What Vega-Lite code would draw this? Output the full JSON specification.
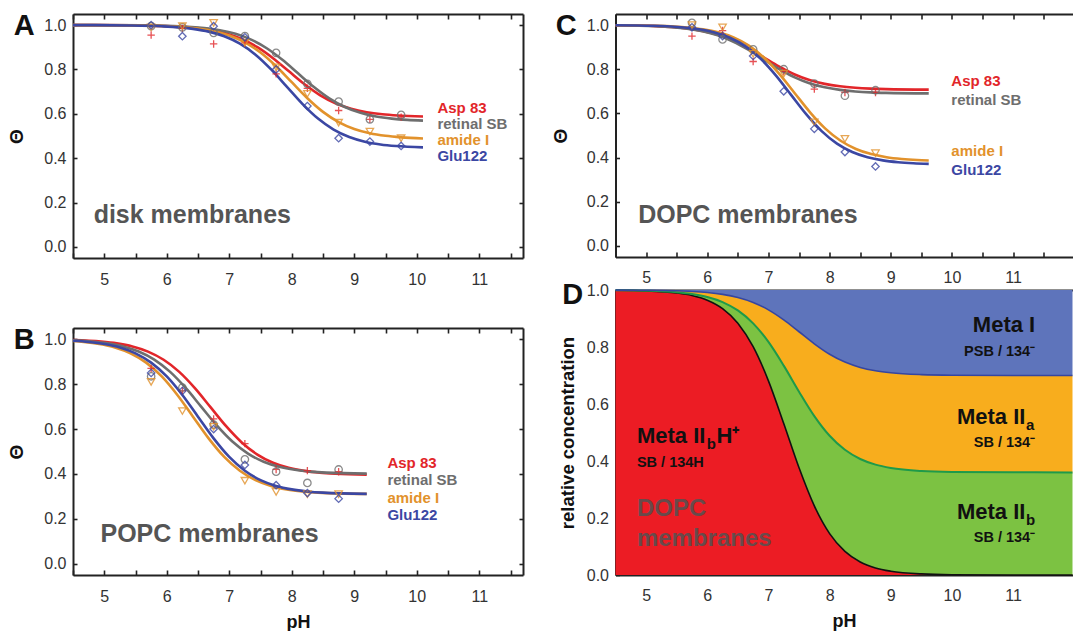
{
"$schema":"https://vega.github.io/schema/vega-lite/v6.json",
"background":"white",
"padding":{"left":7,"top":12,"right":0,"bottom":0},
"config":{
 "font":"Liberation Sans",
 "view":{"stroke":null},
 "axis":{"grid":false,"zindex":1,"domainColor":"#222","domainWidth":2,"tickColor":"#222","tickWidth":1.6,"labelFont":"Liberation Sans","labelFontSize":16,"labelColor":"#333","titleFont":"Liberation Sans","titleColor":"#111","titleFontWeight":"bold","labelOverlap":false,"labelFlush":false},
 "text":{"font":"Liberation Sans"},
 "title":{"font":"Liberation Sans"}
},
"datasets":{
 "aLines":[
  {"s":"Asp 83","p":4.5,"v":1.0},{"s":"Asp 83","p":5.45,"v":0.9987},{"s":"Asp 83","p":5.95,"v":0.9959},{"s":"Asp 83","p":6.45,"v":0.9873},{"s":"Asp 83","p":6.7,"v":0.9779},{"s":"Asp 83","p":6.95,"v":0.9623},{"s":"Asp 83","p":7.2,"v":0.9373},{"s":"Asp 83","p":7.45,"v":0.9003},{"s":"Asp 83","p":7.7,"v":0.8506},{"s":"Asp 83","p":7.95,"v":0.7925},{"s":"Asp 83","p":8.2,"v":0.7344},{"s":"Asp 83","p":8.45,"v":0.6847},{"s":"Asp 83","p":8.7,"v":0.6477},{"s":"Asp 83","p":8.95,"v":0.6227},{"s":"Asp 83","p":9.2,"v":0.6071},{"s":"Asp 83","p":9.45,"v":0.5977},{"s":"Asp 83","p":9.7,"v":0.5923},{"s":"Asp 83","p":10.1,"v":0.5879},
  {"s":"retinal SB","p":4.5,"v":1.0},{"s":"retinal SB","p":5.6,"v":0.9986},{"s":"retinal SB","p":6.1,"v":0.9957},{"s":"retinal SB","p":6.6,"v":0.9866},{"s":"retinal SB","p":6.85,"v":0.9769},{"s":"retinal SB","p":7.1,"v":0.9605},{"s":"retinal SB","p":7.35,"v":0.9343},{"s":"retinal SB","p":7.6,"v":0.8955},{"s":"retinal SB","p":7.85,"v":0.8434},{"s":"retinal SB","p":8.1,"v":0.7825},{"s":"retinal SB","p":8.35,"v":0.7216},{"s":"retinal SB","p":8.6,"v":0.6695},{"s":"retinal SB","p":8.85,"v":0.6307},{"s":"retinal SB","p":9.1,"v":0.6045},{"s":"retinal SB","p":9.35,"v":0.5881},{"s":"retinal SB","p":9.6,"v":0.5784},{"s":"retinal SB","p":9.85,"v":0.5726},{"s":"retinal SB","p":10.1,"v":0.5693},
  {"s":"amide I","p":4.5,"v":1.0},{"s":"amide I","p":5.5,"v":0.9984},{"s":"amide I","p":6.0,"v":0.9949},{"s":"amide I","p":6.5,"v":0.9842},{"s":"amide I","p":6.75,"v":0.9726},{"s":"amide I","p":7.0,"v":0.9532},{"s":"amide I","p":7.25,"v":0.9222},{"s":"amide I","p":7.5,"v":0.8762},{"s":"amide I","p":7.75,"v":0.8146},{"s":"amide I","p":8.0,"v":0.7425},{"s":"amide I","p":8.25,"v":0.6704},{"s":"amide I","p":8.5,"v":0.6088},{"s":"amide I","p":8.75,"v":0.5628},{"s":"amide I","p":9.0,"v":0.5318},{"s":"amide I","p":9.25,"v":0.5124},{"s":"amide I","p":9.5,"v":0.5008},{"s":"amide I","p":9.75,"v":0.494},{"s":"amide I","p":10.1,"v":0.489},
  {"s":"Glu122","p":4.5,"v":1.0},{"s":"Glu122","p":5.42,"v":0.9982},{"s":"Glu122","p":5.92,"v":0.9945},{"s":"Glu122","p":6.42,"v":0.983},{"s":"Glu122","p":6.67,"v":0.9705},{"s":"Glu122","p":6.92,"v":0.9495},{"s":"Glu122","p":7.17,"v":0.9162},{"s":"Glu122","p":7.42,"v":0.8666},{"s":"Glu122","p":7.67,"v":0.8002},{"s":"Glu122","p":7.92,"v":0.7225},{"s":"Glu122","p":8.17,"v":0.6448},{"s":"Glu122","p":8.42,"v":0.5784},{"s":"Glu122","p":8.67,"v":0.5288},{"s":"Glu122","p":8.92,"v":0.4955},{"s":"Glu122","p":9.17,"v":0.4745},{"s":"Glu122","p":9.42,"v":0.462},{"s":"Glu122","p":9.67,"v":0.4547},{"s":"Glu122","p":10.1,"v":0.4487}
 ],
 "aPts":[
  {"s":"Asp 83","p":5.75,"v":0.955},{"s":"Asp 83","p":6.25,"v":0.985},{"s":"Asp 83","p":6.75,"v":0.915},{"s":"Asp 83","p":7.25,"v":0.92},{"s":"Asp 83","p":7.75,"v":0.78},{"s":"Asp 83","p":8.25,"v":0.715},{"s":"Asp 83","p":8.75,"v":0.615},{"s":"Asp 83","p":9.25,"v":0.575},{"s":"Asp 83","p":9.75,"v":0.585},
  {"s":"retinal SB","p":5.75,"v":0.995},{"s":"retinal SB","p":6.25,"v":0.99},{"s":"retinal SB","p":6.75,"v":0.965},{"s":"retinal SB","p":7.25,"v":0.95},{"s":"retinal SB","p":7.75,"v":0.875},{"s":"retinal SB","p":8.25,"v":0.735},{"s":"retinal SB","p":8.75,"v":0.655},{"s":"retinal SB","p":9.25,"v":0.575},{"s":"retinal SB","p":9.75,"v":0.595},
  {"s":"amide I","p":5.75,"v":0.99},{"s":"amide I","p":6.25,"v":0.995},{"s":"amide I","p":6.75,"v":1.01},{"s":"amide I","p":7.25,"v":0.92},{"s":"amide I","p":7.75,"v":0.81},{"s":"amide I","p":8.25,"v":0.69},{"s":"amide I","p":8.75,"v":0.56},{"s":"amide I","p":9.25,"v":0.52},{"s":"amide I","p":9.75,"v":0.49},
  {"s":"Glu122","p":5.75,"v":1.0},{"s":"Glu122","p":6.25,"v":0.95},{"s":"Glu122","p":6.75,"v":0.995},{"s":"Glu122","p":7.25,"v":0.945},{"s":"Glu122","p":7.75,"v":0.8},{"s":"Glu122","p":8.25,"v":0.635},{"s":"Glu122","p":8.75,"v":0.49},{"s":"Glu122","p":9.25,"v":0.475},{"s":"Glu122","p":9.75,"v":0.455}
 ],
 "aLab":[{"s":"Asp 83","p":10.33,"v":0.627},{"s":"retinal SB","p":10.33,"v":0.556},{"s":"amide I","p":10.33,"v":0.483},{"s":"Glu122","p":10.33,"v":0.412}],
 "aName":[{"t":"disk membranes","p":4.83,"v":0.145}],
 "bLines":[
  {"s":"Asp 83","p":4.5,"v":0.9962},{"s":"Asp 83","p":4.95,"v":0.9894},{"s":"Asp 83","p":5.2,"v":0.9814},{"s":"Asp 83","p":5.45,"v":0.9678},{"s":"Asp 83","p":5.7,"v":0.945},{"s":"Asp 83","p":5.95,"v":0.9086},{"s":"Asp 83","p":6.2,"v":0.8546},{"s":"Asp 83","p":6.45,"v":0.7822},{"s":"Asp 83","p":6.7,"v":0.6975},{"s":"Asp 83","p":6.95,"v":0.6128},{"s":"Asp 83","p":7.2,"v":0.5404},{"s":"Asp 83","p":7.45,"v":0.4864},{"s":"Asp 83","p":7.7,"v":0.45},{"s":"Asp 83","p":7.95,"v":0.4272},{"s":"Asp 83","p":8.2,"v":0.4136},{"s":"Asp 83","p":8.45,"v":0.4056},{"s":"Asp 83","p":8.7,"v":0.401},{"s":"Asp 83","p":9.2,"v":0.3969},
  {"s":"retinal SB","p":4.5,"v":0.9947},{"s":"retinal SB","p":4.8,"v":0.9895},{"s":"retinal SB","p":5.05,"v":0.9816},{"s":"retinal SB","p":5.3,"v":0.9681},{"s":"retinal SB","p":5.55,"v":0.9455},{"s":"retinal SB","p":5.8,"v":0.9094},{"s":"retinal SB","p":6.05,"v":0.8558},{"s":"retinal SB","p":6.3,"v":0.784},{"s":"retinal SB","p":6.55,"v":0.7},{"s":"retinal SB","p":6.8,"v":0.616},{"s":"retinal SB","p":7.05,"v":0.5442},{"s":"retinal SB","p":7.3,"v":0.4906},{"s":"retinal SB","p":7.55,"v":0.4545},{"s":"retinal SB","p":7.8,"v":0.4319},{"s":"retinal SB","p":8.05,"v":0.4184},{"s":"retinal SB","p":8.3,"v":0.4105},{"s":"retinal SB","p":8.55,"v":0.4059},{"s":"retinal SB","p":9.2,"v":0.4013},
  {"s":"amide I","p":4.5,"v":0.9918},{"s":"amide I","p":4.67,"v":0.9879},{"s":"amide I","p":4.92,"v":0.9788},{"s":"amide I","p":5.17,"v":0.9633},{"s":"amide I","p":5.42,"v":0.9373},{"s":"amide I","p":5.67,"v":0.8958},{"s":"amide I","p":5.92,"v":0.8342},{"s":"amide I","p":6.17,"v":0.7516},{"s":"amide I","p":6.42,"v":0.655},{"s":"amide I","p":6.67,"v":0.5584},{"s":"amide I","p":6.92,"v":0.4758},{"s":"amide I","p":7.17,"v":0.4142},{"s":"amide I","p":7.42,"v":0.3727},{"s":"amide I","p":7.67,"v":0.3467},{"s":"amide I","p":7.92,"v":0.3312},{"s":"amide I","p":8.17,"v":0.3221},{"s":"amide I","p":8.42,"v":0.3168},{"s":"amide I","p":9.2,"v":0.3112},
  {"s":"Glu122","p":4.5,"v":0.9931},{"s":"Glu122","p":4.75,"v":0.9879},{"s":"Glu122","p":5.0,"v":0.9788},{"s":"Glu122","p":5.25,"v":0.9633},{"s":"Glu122","p":5.5,"v":0.9373},{"s":"Glu122","p":5.75,"v":0.8958},{"s":"Glu122","p":6.0,"v":0.8342},{"s":"Glu122","p":6.25,"v":0.7516},{"s":"Glu122","p":6.5,"v":0.655},{"s":"Glu122","p":6.75,"v":0.5584},{"s":"Glu122","p":7.0,"v":0.4758},{"s":"Glu122","p":7.25,"v":0.4142},{"s":"Glu122","p":7.5,"v":0.3727},{"s":"Glu122","p":7.75,"v":0.3467},{"s":"Glu122","p":8.0,"v":0.3312},{"s":"Glu122","p":8.25,"v":0.3221},{"s":"Glu122","p":8.5,"v":0.3168},{"s":"Glu122","p":9.2,"v":0.3114}
 ],
 "bPts":[
  {"s":"Asp 83","p":5.75,"v":0.87},{"s":"Asp 83","p":6.25,"v":0.77},{"s":"Asp 83","p":6.75,"v":0.645},{"s":"Asp 83","p":7.25,"v":0.535},{"s":"Asp 83","p":7.75,"v":0.42},{"s":"Asp 83","p":8.25,"v":0.415},{"s":"Asp 83","p":8.75,"v":0.41},
  {"s":"retinal SB","p":5.75,"v":0.835},{"s":"retinal SB","p":6.25,"v":0.785},{"s":"retinal SB","p":6.75,"v":0.62},{"s":"retinal SB","p":7.25,"v":0.465},{"s":"retinal SB","p":7.75,"v":0.41},{"s":"retinal SB","p":8.25,"v":0.36},{"s":"retinal SB","p":8.75,"v":0.42},
  {"s":"amide I","p":5.75,"v":0.81},{"s":"amide I","p":6.25,"v":0.68},{"s":"amide I","p":6.75,"v":0.61},{"s":"amide I","p":7.25,"v":0.37},{"s":"amide I","p":7.75,"v":0.32},{"s":"amide I","p":8.25,"v":0.31},{"s":"amide I","p":8.75,"v":0.31},
  {"s":"Glu122","p":5.75,"v":0.85},{"s":"Glu122","p":6.25,"v":0.77},{"s":"Glu122","p":6.75,"v":0.6},{"s":"Glu122","p":7.25,"v":0.44},{"s":"Glu122","p":7.75,"v":0.35},{"s":"Glu122","p":8.25,"v":0.315},{"s":"Glu122","p":8.75,"v":0.29}
 ],
 "bLab":[{"s":"Asp 83","p":9.53,"v":0.449},{"s":"retinal SB","p":9.53,"v":0.375},{"s":"amide I","p":9.53,"v":0.293},{"s":"Glu122","p":9.53,"v":0.216}],
 "bName":[{"t":"POPC membranes","p":4.94,"v":0.134}],
 "cLines":[
  {"s":"Asp 83","p":4.5,"v":0.9989},{"s":"Asp 83","p":5.17,"v":0.9949},{"s":"Asp 83","p":5.42,"v":0.991},{"s":"Asp 83","p":5.67,"v":0.9844},{"s":"Asp 83","p":5.92,"v":0.9734},{"s":"Asp 83","p":6.17,"v":0.9558},{"s":"Asp 83","p":6.42,"v":0.9296},{"s":"Asp 83","p":6.67,"v":0.8945},{"s":"Asp 83","p":6.92,"v":0.8535},{"s":"Asp 83","p":7.17,"v":0.8125},{"s":"Asp 83","p":7.42,"v":0.7774},{"s":"Asp 83","p":7.67,"v":0.7512},{"s":"Asp 83","p":7.92,"v":0.7336},{"s":"Asp 83","p":8.17,"v":0.7226},{"s":"Asp 83","p":8.42,"v":0.716},{"s":"Asp 83","p":8.67,"v":0.7121},{"s":"Asp 83","p":8.92,"v":0.7099},{"s":"Asp 83","p":9.62,"v":0.7076},
  {"s":"retinal SB","p":4.5,"v":0.9988},{"s":"retinal SB","p":5.17,"v":0.9946},{"s":"retinal SB","p":5.42,"v":0.9905},{"s":"retinal SB","p":5.67,"v":0.9835},{"s":"retinal SB","p":5.92,"v":0.9718},{"s":"retinal SB","p":6.17,"v":0.9532},{"s":"retinal SB","p":6.42,"v":0.9255},{"s":"retinal SB","p":6.67,"v":0.8884},{"s":"retinal SB","p":6.92,"v":0.845},{"s":"retinal SB","p":7.17,"v":0.8016},{"s":"retinal SB","p":7.42,"v":0.7645},{"s":"retinal SB","p":7.67,"v":0.7368},{"s":"retinal SB","p":7.92,"v":0.7182},{"s":"retinal SB","p":8.17,"v":0.7065},{"s":"retinal SB","p":8.42,"v":0.6995},{"s":"retinal SB","p":8.67,"v":0.6954},{"s":"retinal SB","p":8.92,"v":0.6931},{"s":"retinal SB","p":9.62,"v":0.6906},
  {"s":"amide I","p":4.5,"v":0.9993},{"s":"amide I","p":5.18,"v":0.9965},{"s":"amide I","p":5.68,"v":0.9892},{"s":"amide I","p":5.93,"v":0.9811},{"s":"amide I","p":6.18,"v":0.9672},{"s":"amide I","p":6.43,"v":0.9439},{"s":"amide I","p":6.68,"v":0.9068},{"s":"amide I","p":6.93,"v":0.8517},{"s":"amide I","p":7.18,"v":0.7779},{"s":"amide I","p":7.43,"v":0.6915},{"s":"amide I","p":7.68,"v":0.6051},{"s":"amide I","p":7.93,"v":0.5313},{"s":"amide I","p":8.18,"v":0.4762},{"s":"amide I","p":8.43,"v":0.4391},{"s":"amide I","p":8.68,"v":0.4158},{"s":"amide I","p":8.93,"v":0.4019},{"s":"amide I","p":9.18,"v":0.3938},{"s":"amide I","p":9.43,"v":0.3891},{"s":"amide I","p":9.62,"v":0.387},
  {"s":"Glu122","p":4.5,"v":0.9992},{"s":"Glu122","p":5.12,"v":0.9965},{"s":"Glu122","p":5.62,"v":0.9889},{"s":"Glu122","p":5.87,"v":0.9806},{"s":"Glu122","p":6.12,"v":0.9664},{"s":"Glu122","p":6.37,"v":0.9426},{"s":"Glu122","p":6.62,"v":0.9046},{"s":"Glu122","p":6.87,"v":0.8481},{"s":"Glu122","p":7.12,"v":0.7725},{"s":"Glu122","p":7.37,"v":0.684},{"s":"Glu122","p":7.62,"v":0.5955},{"s":"Glu122","p":7.87,"v":0.5199},{"s":"Glu122","p":8.12,"v":0.4634},{"s":"Glu122","p":8.37,"v":0.4254},{"s":"Glu122","p":8.62,"v":0.4016},{"s":"Glu122","p":8.87,"v":0.3874},{"s":"Glu122","p":9.12,"v":0.3791},{"s":"Glu122","p":9.37,"v":0.3743},{"s":"Glu122","p":9.62,"v":0.3715}
 ],
 "cPts":[
  {"s":"Asp 83","p":5.75,"v":0.95},{"s":"Asp 83","p":6.25,"v":0.975},{"s":"Asp 83","p":6.75,"v":0.835},{"s":"Asp 83","p":7.25,"v":0.79},{"s":"Asp 83","p":7.75,"v":0.71},{"s":"Asp 83","p":8.25,"v":0.695},{"s":"Asp 83","p":8.75,"v":0.695},
  {"s":"retinal SB","p":5.75,"v":1.01},{"s":"retinal SB","p":6.25,"v":0.935},{"s":"retinal SB","p":6.75,"v":0.89},{"s":"retinal SB","p":7.25,"v":0.8},{"s":"retinal SB","p":7.75,"v":0.735},{"s":"retinal SB","p":8.25,"v":0.68},{"s":"retinal SB","p":8.75,"v":0.705},
  {"s":"amide I","p":5.75,"v":1.0},{"s":"amide I","p":6.25,"v":0.99},{"s":"amide I","p":6.75,"v":0.87},{"s":"amide I","p":7.25,"v":0.78},{"s":"amide I","p":7.75,"v":0.56},{"s":"amide I","p":8.25,"v":0.485},{"s":"amide I","p":8.75,"v":0.42},
  {"s":"Glu122","p":5.75,"v":0.99},{"s":"Glu122","p":6.25,"v":0.95},{"s":"Glu122","p":6.75,"v":0.86},{"s":"Glu122","p":7.25,"v":0.7},{"s":"Glu122","p":7.75,"v":0.53},{"s":"Glu122","p":8.25,"v":0.425},{"s":"Glu122","p":8.75,"v":0.36}
 ],
 "cLab":[{"s":"Asp 83","p":9.99,"v":0.745},{"s":"retinal SB","p":9.99,"v":0.66},{"s":"amide I","p":9.99,"v":0.43},{"s":"Glu122","p":9.99,"v":0.344}],
 "cName":[{"t":"DOPC membranes","p":4.87,"v":0.142}],
 "dArea":[
  {"p":4.5,"r":0.9992,"g":0.9992,"b":0.9997},{"p":5.0,"r":0.9971,"g":0.9975,"b":0.9991},{"p":5.5,"r":0.9896,"g":0.9921,"b":0.9972},{"p":5.75,"r":0.9807,"g":0.986,"b":0.995},{"p":6.0,"r":0.9642,"g":0.9755,"b":0.9912},{"p":6.25,"r":0.9346,"g":0.9577,"b":0.9847},{"p":6.5,"r":0.8836,"g":0.9284,"b":0.9738},{"p":6.75,"r":0.801,"g":0.883,"b":0.9564},{"p":7.0,"r":0.6813,"g":0.8178,"b":0.9304},{"p":7.25,"r":0.5316,"g":0.7347,"b":0.8952},{"p":7.5,"r":0.376,"g":0.6433,"b":0.8535},{"p":7.75,"r":0.2424,"g":0.5576,"b":0.8112},{"p":8.0,"r":0.1452,"g":0.4885,"b":0.7746},{"p":8.25,"r":0.0827,"g":0.4392,"b":0.7471},{"p":8.5,"r":0.0457,"g":0.4071,"b":0.7284},{"p":8.75,"r":0.0248,"g":0.3874,"b":0.7167},{"p":9.0,"r":0.0133,"g":0.3757,"b":0.7096},{"p":9.5,"r":0.0038,"g":0.365,"b":0.7031},{"p":10.0,"r":0.0011,"g":0.3616,"b":0.701},{"p":11.0,"r":0.0001,"g":0.3602,"b":0.7001},{"p":11.97,"r":0.0,"g":0.36,"b":0.7}
 ],
 "dBigR":[{"t":"Meta I","p":11.36,"v":0.877},{"t":"Meta II","p":11.2,"v":0.554},{"t":"Meta II","p":11.2,"v":0.221}],
 "dBigL":[{"t":"Meta II","p":4.85,"v":0.488},{"t":"H⁺","p":6.15,"v":0.488}],
 "dSub":[{"t":"a","p":11.21,"v":0.554},{"t":"b","p":11.21,"v":0.221},{"t":"b","p":5.99,"v":0.488}],
 "dSmallR":[{"t":"PSB / 134⁻","p":11.36,"v":0.782},{"t":"SB / 134⁻","p":11.36,"v":0.463},{"t":"SB / 134⁻","p":11.36,"v":0.13}],
 "dSmallL":[{"t":"SB / 134H","p":4.85,"v":0.393}],
 "dName":[{"t":"DOPC","p":4.85,"v":0.23},{"t":"membranes","p":4.85,"v":0.126}]
},
"spacing":27.5,
"hconcat":[
 {"spacing":39,"vconcat":[
  {"width":450,"height":244,
   "title":{"text":"A","anchor":"start","frame":"bounds","fontSize":29,"fontWeight":"bold","color":"#111","baseline":"top","dy":32,"dx":6},
   "layer":[
    {"data":{"name":"aLines"},"mark":{"type":"line","strokeWidth":2.6,"interpolate":"monotone"},
     "encoding":{
      "x":{"field":"p","type":"quantitative","scale":{"domain":[4.5,11.7],"nice":false,"zero":false},
       "axis":{"orient":"bottom","values":[4.5,5,5.5,6,6.5,7,7.5,8,8.5,9,9.5,10,10.5,11,11.5],"labelExpr":"datum.value % 1 === 0 ? format(datum.value, 'd') : ''","tickSize":-5,"labelPadding":18,"title":null}},
      "y":{"field":"v","type":"quantitative","scale":{"domain":[-0.05,1.05],"nice":false,"zero":false},
       "axis":{"orient":"left","values":[0,0.2,0.4,0.6,0.8,1],"format":".1f","tickSize":-4,"labelPadding":11,"title":"Θ","titleFontSize":19,"titlePadding":17}},
      "color":{"field":"s","type":"nominal","scale":{"domain":["Asp 83","retinal SB","amide I","Glu122"],"range":["#e2262a","#6e6e6e","#e2922c","#3b47a3"]},"legend":null}}},
    {"data":{"name":"aPts"},"mark":{"type":"point","filled":false,"strokeWidth":1.3,"size":55,"opacity":0.8},
     "encoding":{
      "x":{"field":"p","type":"quantitative","axis":null},
      "y":{"field":"v","type":"quantitative","axis":null},
      "color":{"field":"s","type":"nominal","scale":{"domain":["Asp 83","retinal SB","amide I","Glu122"],"range":["#e2262a","#6e6e6e","#e2922c","#3b47a3"]},"legend":null},
      "shape":{"field":"s","type":"nominal","scale":{"domain":["Asp 83","retinal SB","amide I","Glu122"],"range":["M-1,0L1,0M0,-1L0,1","circle","triangle-down","diamond"]},"legend":null}}},
    {"data":{"name":"aLab"},"mark":{"type":"text","align":"left","baseline":"middle","fontWeight":"bold","fontSize":15},
     "encoding":{
      "x":{"field":"p","type":"quantitative","axis":{"orient":"top","values":[4.5,5,5.5,6,6.5,7,7.5,8,8.5,9,9.5,10,10.5,11,11.5],"labels":false,"tickSize":-5,"title":null}},
      "y":{"field":"v","type":"quantitative","axis":{"orient":"right","values":[0,0.2,0.4,0.6,0.8,1],"labels":false,"tickSize":-4,"title":null}},
      "text":{"field":"s","type":"nominal"},
      "color":{"field":"s","type":"nominal","scale":{"domain":["Asp 83","retinal SB","amide I","Glu122"],"range":["#e2262a","#6e6e6e","#e2922c","#3b47a3"]},"legend":null}}},
    {"data":{"name":"aName"},"mark":{"type":"text","align":"left","baseline":"middle","fontWeight":"bold","fontSize":25,"color":"#555"},
     "encoding":{"x":{"field":"p","type":"quantitative","axis":null},"y":{"field":"v","type":"quantitative","axis":null},"text":{"field":"t","type":"nominal"}}}
   ],
   "resolve":{"axis":{"x":"independent","y":"independent"}}
  },
  {"width":450,"height":247,
   "title":{"text":"B","anchor":"start","frame":"bounds","fontSize":29,"fontWeight":"bold","color":"#111","baseline":"top","dy":32,"dx":6},
   "layer":[
    {"data":{"name":"bLines"},"mark":{"type":"line","strokeWidth":2.6,"interpolate":"monotone"},
     "encoding":{
      "x":{"field":"p","type":"quantitative","scale":{"domain":[4.5,11.7],"nice":false,"zero":false},
       "axis":{"orient":"bottom","values":[4.5,5,5.5,6,6.5,7,7.5,8,8.5,9,9.5,10,10.5,11,11.5],"labelExpr":"datum.value % 1 === 0 ? format(datum.value, 'd') : ''","tickSize":-5,"labelPadding":18,"title":"pH","titleFontSize":18,"titlePadding":9}},
      "y":{"field":"v","type":"quantitative","scale":{"domain":[-0.05,1.05],"nice":false,"zero":false},
       "axis":{"orient":"left","values":[0,0.2,0.4,0.6,0.8,1],"format":".1f","tickSize":-4,"labelPadding":11,"title":"Θ","titleFontSize":19,"titlePadding":17}},
      "color":{"field":"s","type":"nominal","scale":{"domain":["Asp 83","retinal SB","amide I","Glu122"],"range":["#e2262a","#7a7a7a","#f0aa28","#3b47a3"]},"legend":null}}},
    {"data":{"name":"bPts"},"mark":{"type":"point","filled":false,"strokeWidth":1.3,"size":55,"opacity":0.8},
     "encoding":{
      "x":{"field":"p","type":"quantitative","axis":null},
      "y":{"field":"v","type":"quantitative","axis":null},
      "color":{"field":"s","type":"nominal","scale":{"domain":["Asp 83","retinal SB","amide I","Glu122"],"range":["#e2262a","#7a7a7a","#f0aa28","#3b47a3"]},"legend":null},
      "shape":{"field":"s","type":"nominal","scale":{"domain":["Asp 83","retinal SB","amide I","Glu122"],"range":["M-1,0L1,0M0,-1L0,1","circle","triangle-down","diamond"]},"legend":null}}},
    {"data":{"name":"bLab"},"mark":{"type":"text","align":"left","baseline":"middle","fontWeight":"bold","fontSize":15},
     "encoding":{
      "x":{"field":"p","type":"quantitative","axis":{"orient":"top","values":[4.5,5,5.5,6,6.5,7,7.5,8,8.5,9,9.5,10,10.5,11,11.5],"labels":false,"tickSize":-5,"title":null}},
      "y":{"field":"v","type":"quantitative","axis":{"orient":"right","values":[0,0.2,0.4,0.6,0.8,1],"labels":false,"tickSize":-4,"title":null}},
      "text":{"field":"s","type":"nominal"},
      "color":{"field":"s","type":"nominal","scale":{"domain":["Asp 83","retinal SB","amide I","Glu122"],"range":["#e2262a","#7a7a7a","#f0aa28","#3b47a3"]},"legend":null}}},
    {"data":{"name":"bName"},"mark":{"type":"text","align":"left","baseline":"middle","fontWeight":"bold","fontSize":25,"color":"#555"},
     "encoding":{"x":{"field":"p","type":"quantitative","axis":null},"y":{"field":"v","type":"quantitative","axis":null},"text":{"field":"t","type":"nominal"}}}
   ],
   "resolve":{"axis":{"x":"independent","y":"independent"}}
  }
 ]},
 {"spacing":-4,"vconcat":[
  {"width":457,"height":243,
   "title":{"text":"C","anchor":"start","frame":"bounds","fontSize":29,"fontWeight":"bold","color":"#111","baseline":"top","dy":32,"dx":4},
   "layer":[
    {"data":{"name":"cLines"},"mark":{"type":"line","strokeWidth":2.6,"interpolate":"monotone"},
     "encoding":{
      "x":{"field":"p","type":"quantitative","scale":{"domain":[4.5,11.97],"nice":false,"zero":false},
       "axis":{"orient":"bottom","values":[4.5,5,5.5,6,6.5,7,7.5,8,8.5,9,9.5,10,10.5,11,11.5],"labelExpr":"datum.value % 1 === 0 ? format(datum.value, 'd') : ''","tickSize":-5,"labelPadding":17,"title":null}},
      "y":{"field":"v","type":"quantitative","scale":{"domain":[-0.05,1.05],"nice":false,"zero":false},
       "axis":{"orient":"left","values":[0,0.2,0.4,0.6,0.8,1],"format":".1f","tickSize":-4,"labelPadding":11,"title":"Θ","titleFontSize":19,"titlePadding":15.5}},
      "color":{"field":"s","type":"nominal","scale":{"domain":["Asp 83","retinal SB","amide I","Glu122"],"range":["#e2262a","#6e6e6e","#e49a2a","#3b47a3"]},"legend":null}}},
    {"data":{"name":"cPts"},"mark":{"type":"point","filled":false,"strokeWidth":1.3,"size":55,"opacity":0.8},
     "encoding":{
      "x":{"field":"p","type":"quantitative","axis":null},
      "y":{"field":"v","type":"quantitative","axis":null},
      "color":{"field":"s","type":"nominal","scale":{"domain":["Asp 83","retinal SB","amide I","Glu122"],"range":["#e2262a","#6e6e6e","#e49a2a","#3b47a3"]},"legend":null},
      "shape":{"field":"s","type":"nominal","scale":{"domain":["Asp 83","retinal SB","amide I","Glu122"],"range":["M-1,0L1,0M0,-1L0,1","circle","square","diamond"]},"legend":null}}},
    {"data":{"name":"cLab"},"mark":{"type":"text","align":"left","baseline":"middle","fontWeight":"bold","fontSize":15},
     "encoding":{
      "x":{"field":"p","type":"quantitative","axis":{"orient":"top","values":[4.5,5,5.5,6,6.5,7,7.5,8,8.5,9,9.5,10,10.5,11,11.5],"labels":false,"tickSize":-5,"title":null}},
      "y":{"field":"v","type":"quantitative","axis":null},
      "text":{"field":"s","type":"nominal"},
      "color":{"field":"s","type":"nominal","scale":{"domain":["Asp 83","retinal SB","amide I","Glu122"],"range":["#e2262a","#6e6e6e","#e49a2a","#3b47a3"]},"legend":null}}},
    {"data":{"name":"cName"},"mark":{"type":"text","align":"left","baseline":"middle","fontWeight":"bold","fontSize":25,"color":"#555"},
     "encoding":{"x":{"field":"p","type":"quantitative","axis":null},"y":{"field":"v","type":"quantitative","axis":null},"text":{"field":"t","type":"nominal"}}}
   ],
   "resolve":{"axis":{"x":"independent","y":"independent"}}
  },
  {"width":457,"height":285,
   "title":{"text":"D","anchor":"start","frame":"bounds","fontSize":29,"fontWeight":"bold","color":"#111","baseline":"top","dy":32,"dx":4},
   "layer":[
    {"data":{"name":"dArea"},"mark":{"type":"area","color":"#ec1c24","interpolate":"monotone"},
     "encoding":{
      "x":{"field":"p","type":"quantitative","scale":{"domain":[4.5,11.97],"nice":false,"zero":false},
       "axis":{"orient":"bottom","values":[4.5,5,5.5,6,6.5,7,7.5,8,8.5,9,9.5,10,10.5,11,11.5],"labelExpr":"datum.value % 1 === 0 ? format(datum.value, 'd') : ''","tickSize":-5,"labelPadding":17,"title":"pH","titleFontSize":18,"titlePadding":9}},
      "y":{"field":"r","type":"quantitative","scale":{"domain":[0,1],"nice":false,"zero":false},
       "axis":{"orient":"left","values":[0,0.2,0.4,0.6,0.8,1],"format":".1f","tickSize":-4,"labelPadding":11,"title":"relative concentration","titleFontSize":18.5,"titlePadding":9}},
      "y2":{"datum":0}}},
    {"data":{"name":"dArea"},"mark":{"type":"area","color":"#7cc242","interpolate":"monotone"},
     "encoding":{"x":{"field":"p","type":"quantitative","axis":null},"y":{"field":"g","type":"quantitative","axis":null},"y2":{"field":"r"}}},
    {"data":{"name":"dArea"},"mark":{"type":"area","color":"#f8ad1d","interpolate":"monotone"},
     "encoding":{"x":{"field":"p","type":"quantitative","axis":null},"y":{"field":"b","type":"quantitative","axis":null},"y2":{"field":"g"}}},
    {"data":{"name":"dArea"},"mark":{"type":"area","color":"#5e74bb","interpolate":"monotone"},
     "encoding":{"x":{"field":"p","type":"quantitative","axis":null},"y":{"field":"b","type":"quantitative","axis":null},"y2":{"datum":1}}},
    {"data":{"name":"dArea"},"mark":{"type":"line","color":"#111","strokeWidth":1.6,"interpolate":"monotone"},
     "encoding":{"x":{"field":"p","type":"quantitative","axis":null},"y":{"field":"r","type":"quantitative","axis":null}}},
    {"data":{"name":"dArea"},"mark":{"type":"line","color":"#1e9a4a","strokeWidth":2,"interpolate":"monotone"},
     "encoding":{"x":{"field":"p","type":"quantitative","axis":null},"y":{"field":"g","type":"quantitative","axis":null}}},
    {"data":{"name":"dArea"},"mark":{"type":"line","color":"#3646a0","strokeWidth":1.6,"interpolate":"monotone"},
     "encoding":{"x":{"field":"p","type":"quantitative","axis":null},"y":{"field":"b","type":"quantitative","axis":null}}},
    {"data":{"name":"dBigR"},"mark":{"type":"text","align":"right","baseline":"middle","fontWeight":"bold","fontSize":22,"color":"#111"},
     "encoding":{"x":{"field":"p","type":"quantitative","axis":{"orient":"top","values":[4.5,5,5.5,6,6.5,7,7.5,8,8.5,9,9.5,10,10.5,11,11.5],"labels":false,"tickSize":-5,"title":null}},"y":{"field":"v","type":"quantitative","axis":null},"text":{"field":"t","type":"nominal"}}},
    {"data":{"name":"dBigL"},"mark":{"type":"text","align":"left","baseline":"middle","fontWeight":"bold","fontSize":22,"color":"#111"},
     "encoding":{"x":{"field":"p","type":"quantitative","axis":null},"y":{"field":"v","type":"quantitative","axis":null},"text":{"field":"t","type":"nominal"}}},
    {"data":{"name":"dSub"},"mark":{"type":"text","align":"left","baseline":"middle","fontWeight":"bold","fontSize":15,"color":"#111","dy":8},
     "encoding":{"x":{"field":"p","type":"quantitative","axis":null},"y":{"field":"v","type":"quantitative","axis":null},"text":{"field":"t","type":"nominal"}}},
    {"data":{"name":"dSmallR"},"mark":{"type":"text","align":"right","baseline":"middle","fontWeight":"bold","fontSize":14.5,"color":"#111"},
     "encoding":{"x":{"field":"p","type":"quantitative","axis":null},"y":{"field":"v","type":"quantitative","axis":null},"text":{"field":"t","type":"nominal"}}},
    {"data":{"name":"dSmallL"},"mark":{"type":"text","align":"left","baseline":"middle","fontWeight":"bold","fontSize":14.5,"color":"#111"},
     "encoding":{"x":{"field":"p","type":"quantitative","axis":null},"y":{"field":"v","type":"quantitative","axis":null},"text":{"field":"t","type":"nominal"}}},
    {"data":{"name":"dName"},"mark":{"type":"text","align":"left","baseline":"middle","fontWeight":"bold","fontSize":24,"color":"#5a5050","opacity":0.9},
     "encoding":{"x":{"field":"p","type":"quantitative","axis":null},"y":{"field":"v","type":"quantitative","axis":null},"text":{"field":"t","type":"nominal"}}}
   ],
   "resolve":{"axis":{"x":"independent","y":"independent"}}
  }
 ]}
]
}
